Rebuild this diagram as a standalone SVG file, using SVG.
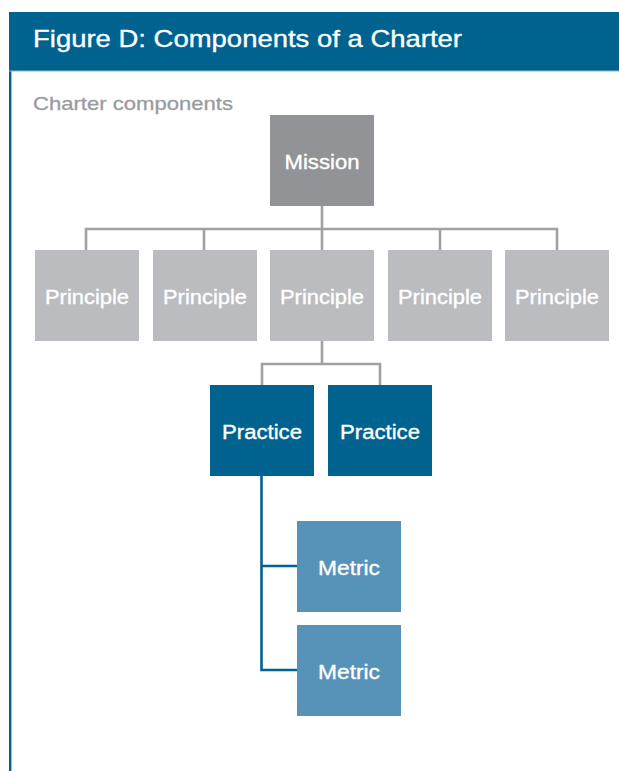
<svg xmlns="http://www.w3.org/2000/svg" width="619" height="771" viewBox="0 0 619 771">
  <style>
    .lbl { font-family: "Liberation Sans", Arial, sans-serif; font-size: 20px; fill: #ffffff; stroke: #ffffff; stroke-width: 0.35; text-anchor: middle; }
    .mission { fill: #929396; }
    .principle { fill: #bbbcbf; }
    .practice { fill: #00628e; }
    .metric { fill: #5793b8; }
    .grey-line { stroke: #a0a1a4; stroke-width: 2.6; fill: none; }
    .blue-line { stroke: #00628e; stroke-width: 2.6; fill: none; }
  </style>

  <rect x="0" y="0" width="619" height="771" fill="#ffffff"/>

  <!-- panel frame and title bar -->
  <g id="frame">
    <rect x="9" y="71" width="2.4" height="700" fill="#00628e"/>
    <rect x="9" y="12" width="610" height="59" fill="#00628e"/>
    <rect x="9" y="70.5" width="610" height="1" fill="#8db3cb"/>
    <text x="33" y="47" font-family="Liberation Sans, Arial, sans-serif" font-size="24" fill="#ffffff" stroke="#ffffff" stroke-width="0.35" textLength="429" lengthAdjust="spacingAndGlyphs">Figure D: Components of a Charter</text>
    <text x="33" y="110" font-family="Liberation Sans, Arial, sans-serif" font-size="19" fill="#9a9b9e" stroke="#9a9b9e" stroke-width="0.3" textLength="200" lengthAdjust="spacingAndGlyphs">Charter components</text>
  </g>

  <!-- connectors -->
  <g id="connectors">
    <path class="grey-line" d="M322 206 V229 M86 251 V229 H557 V251 M204 229 V251 M322 229 V251 M440 229 V251"/>
    <path class="grey-line" d="M322 341 V364 M262 386 V364 H380 V386"/>
    <path class="blue-line" d="M261.5 476 V670 H298 M261.5 566 H298"/>
  </g>

  <g id="mission">
    <rect class="mission" x="270" y="115" width="104" height="91"/>
    <text class="lbl" x="322" y="169" textLength="75" lengthAdjust="spacingAndGlyphs">Mission</text>
  </g>

  <g id="principle-1">
    <rect class="principle" x="35" y="250" width="104" height="91"/>
    <text class="lbl" x="87" y="304" textLength="84" lengthAdjust="spacingAndGlyphs">Principle</text>
  </g>
  <g id="principle-2">
    <rect class="principle" x="153" y="250" width="104" height="91"/>
    <text class="lbl" x="205" y="304" textLength="84" lengthAdjust="spacingAndGlyphs">Principle</text>
  </g>
  <g id="principle-3">
    <rect class="principle" x="270" y="250" width="104" height="91"/>
    <text class="lbl" x="322" y="304" textLength="84" lengthAdjust="spacingAndGlyphs">Principle</text>
  </g>
  <g id="principle-4">
    <rect class="principle" x="388" y="250" width="104" height="91"/>
    <text class="lbl" x="440" y="304" textLength="84" lengthAdjust="spacingAndGlyphs">Principle</text>
  </g>
  <g id="principle-5">
    <rect class="principle" x="505" y="250" width="104" height="91"/>
    <text class="lbl" x="557" y="304" textLength="84" lengthAdjust="spacingAndGlyphs">Principle</text>
  </g>

  <g id="practice-1">
    <rect class="practice" x="210" y="385" width="104" height="91"/>
    <text class="lbl" x="262" y="439" textLength="80" lengthAdjust="spacingAndGlyphs">Practice</text>
  </g>
  <g id="practice-2">
    <rect class="practice" x="328" y="385" width="104" height="91"/>
    <text class="lbl" x="380" y="439" textLength="80" lengthAdjust="spacingAndGlyphs">Practice</text>
  </g>

  <g id="metric-1">
    <rect class="metric" x="297" y="521" width="104" height="91"/>
    <text class="lbl" x="349" y="575" textLength="62" lengthAdjust="spacingAndGlyphs">Metric</text>
  </g>
  <g id="metric-2">
    <rect class="metric" x="297" y="625" width="104" height="91"/>
    <text class="lbl" x="349" y="679" textLength="62" lengthAdjust="spacingAndGlyphs">Metric</text>
  </g>
</svg>
